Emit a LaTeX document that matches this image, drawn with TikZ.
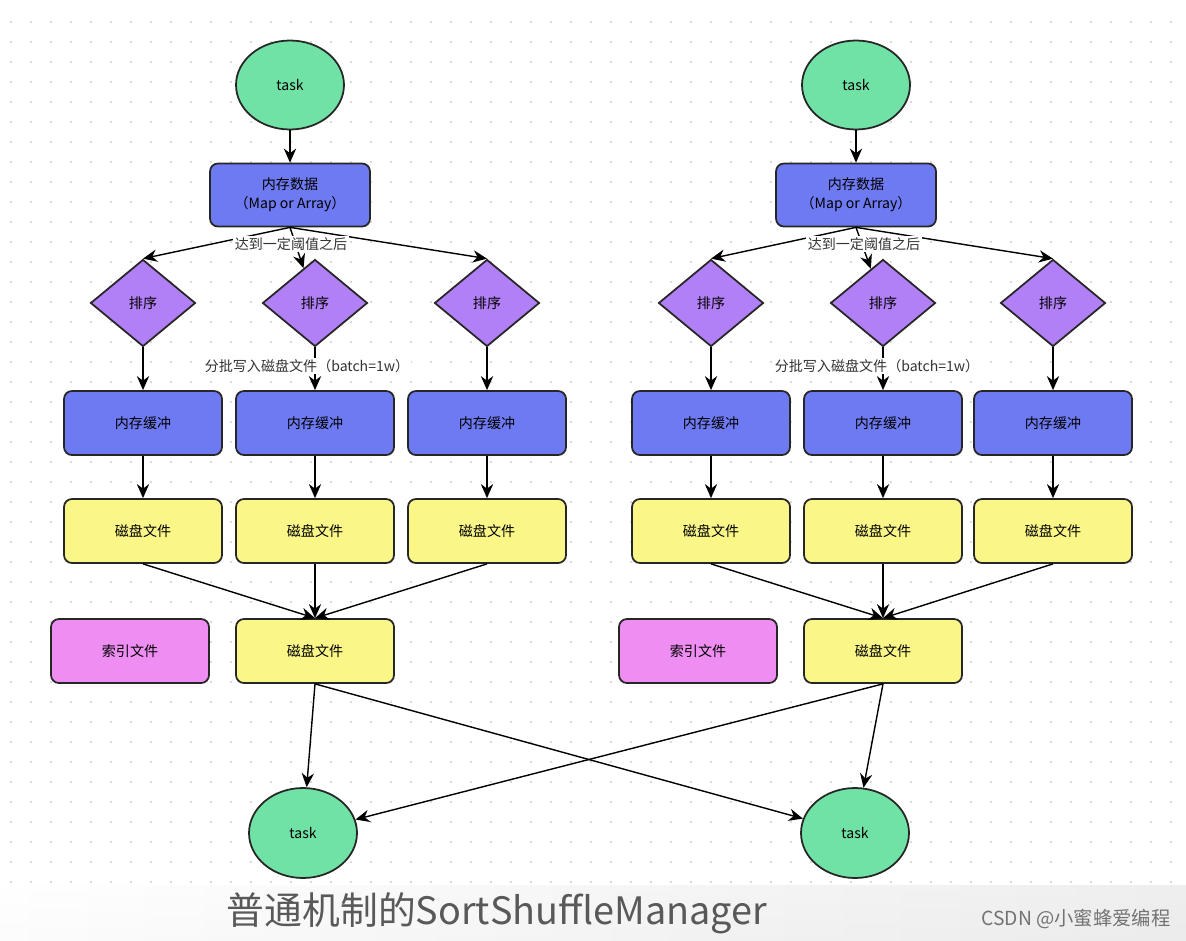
\documentclass[tikz,border=0pt]{standalone}
\usepackage{fontspec}
\setmainfont{Noto Sans CJK SC}
\usetikzlibrary{shapes.geometric,arrows.meta}
\definecolor{taskgreen}{RGB}{112,226,166}
\definecolor{memblue}{RGB}{110,122,242}
\definecolor{sortpurple}{RGB}{178,128,246}
\definecolor{diskyellow}{RGB}{250,246,136}
\definecolor{idxpink}{RGB}{238,142,242}
\tikzset{task/.style = {draw=black!85, fill=taskgreen, line width=1pt, ellipse, minimum width=2.16cm, minimum height=1.78cm, font=\fontsize{8}{10}\selectfont},
         block/.style = {draw=black!85, line width=1pt, rectangle, rounded corners=4.5pt, minimum width=3.16cm, minimum height=1.28cm, align=center, font=\fontsize{8}{11}\selectfont},
         sortd/.style = {draw=black!85, fill=sortpurple, line width=1pt, diamond, inner sep=0pt, minimum width=2.1cm, minimum height=1.74cm, font=\fontsize{8}{10}\selectfont},
         lbl/.style = {fill=white, inner sep=1pt, font=\fontsize{8}{10}\selectfont, text=black!80}}

\begin{document}
\begin{tikzpicture}[x=0.02cm,y=-0.02cm,>={Stealth[length=8pt,width=7pt]}]
        \useasboundingbox (0,0) rectangle (1186,940);
        % dotted background
        \foreach \y in {22,42,...,882}
            \draw[gray!30, line width=0.035cm, dash pattern=on 0.035cm off 0.365cm] (10,\y) -- (1176,\y);
        \shade[top color=white, bottom color=black!6] (0,885) rectangle (1186,940);
        \shade[left color=white, right color=black!8, opacity=0.8] (0,885) rectangle (1186,940);

        % left
        \node[task](t1)at(290,85){task};
        \node[block,fill=memblue,minimum width=3.2cm,minimum height=1.26cm](m1)at(290,195){内存数据\\（Map or Array）};
        \node[sortd](s11)at(143,303){排序};
        \node[sortd](s12)at(315,303){排序};
        \node[sortd](s13)at(487,303){排序};
        \node[block,fill=memblue](b11)at(143,423){内存缓冲};
        \node[block,fill=memblue](b12)at(315,423){内存缓冲};
        \node[block,fill=memblue](b13)at(487,423){内存缓冲};
        \node[block,fill=diskyellow](d11)at(143,531){磁盘文件};
        \node[block,fill=diskyellow](d12)at(315,531){磁盘文件};
        \node[block,fill=diskyellow](d13)at(487,531){磁盘文件};
        \node[block,fill=idxpink](i1)at(130,651){索引文件};
        \node[block,fill=diskyellow](f1)at(315,651){磁盘文件};
        \draw[->,thick](t1)--(m1);
        \draw[->,thick](m1.south)--(s11.north);
        \draw[->,thick](m1.south)--(s12);
        \draw[->,thick](m1.south)--(s13.north);
        \node[lbl](l1)at(291,244){达到一定阈值之后};
        \draw[->,thick](s11)--(b11);
        \draw[->,thick](s12)--(b12);
        \draw[->,thick](s13)--(b13);
        \node[lbl](w1)at(307,366){分批写入磁盘文件（batch=1w）};
        \draw[->,thick](b11)--(d11);
        \draw[->,thick](b12)--(d12);
        \draw[->,thick](b13)--(d13);
        \draw[->,thick](d11.south)--(f1.north);
        \draw[->,thick](d12.south)--(f1.north);
        \draw[->,thick](d13.south)--(f1.north);

        % right
        \node[task](t2)at(856,85){task};
        \node[block,fill=memblue,minimum width=3.2cm,minimum height=1.26cm](m2)at(856,195){内存数据\\（Map or Array）};
        \node[sortd](s21)at(711,303){排序};
        \node[sortd](s22)at(883,303){排序};
        \node[sortd](s23)at(1053,303){排序};
        \node[block,fill=memblue](b21)at(711,423){内存缓冲};
        \node[block,fill=memblue](b22)at(883,423){内存缓冲};
        \node[block,fill=memblue](b23)at(1053,423){内存缓冲};
        \node[block,fill=diskyellow](d21)at(711,531){磁盘文件};
        \node[block,fill=diskyellow](d22)at(883,531){磁盘文件};
        \node[block,fill=diskyellow](d23)at(1053,531){磁盘文件};
        \node[block,fill=idxpink](i2)at(698,651){索引文件};
        \node[block,fill=diskyellow](f2)at(883,651){磁盘文件};
        \draw[->,thick](t2)--(m2);
        \draw[->,thick](m2.south)--(s21.north);
        \draw[->,thick](m2.south)--(s22);
        \draw[->,thick](m2.south)--(s23.north);
        \node[lbl](l2)at(864,244){达到一定阈值之后};
        \draw[->,thick](s21)--(b21);
        \draw[->,thick](s22)--(b22);
        \draw[->,thick](s23)--(b23);
        \node[lbl](w2)at(877,366){分批写入磁盘文件（batch=1w）};
        \draw[->,thick](b21)--(d21);
        \draw[->,thick](b22)--(d22);
        \draw[->,thick](b23)--(d23);
        \draw[->,thick](d21.south)--(f2.north);
        \draw[->,thick](d22.south)--(f2.north);
        \draw[->,thick](d23.south)--(f2.north);

        % bottom tasks
        \node[task,minimum height=1.8cm](r1)at(303,833){task};
        \node[task,minimum height=1.8cm](r2)at(855,833){task};
        \draw[->,thick](f1.south)--(r1);
        \draw[->,thick](f1.south)--(r2);
        \draw[->,thick](f2.south)--(r1);
        \draw[->,thick](f2.south)--(r2);

        \node[text=black!65,font=\fontsize{21.5}{25}\selectfont](title)at(497,913){普通机制的SortShuffleManager};
        \node[text=black!55,font=\fontsize{11}{13}\selectfont](mark)at(1076,919){CSDN @小蜜蜂爱编程};
    \end{tikzpicture}
\end{document}
